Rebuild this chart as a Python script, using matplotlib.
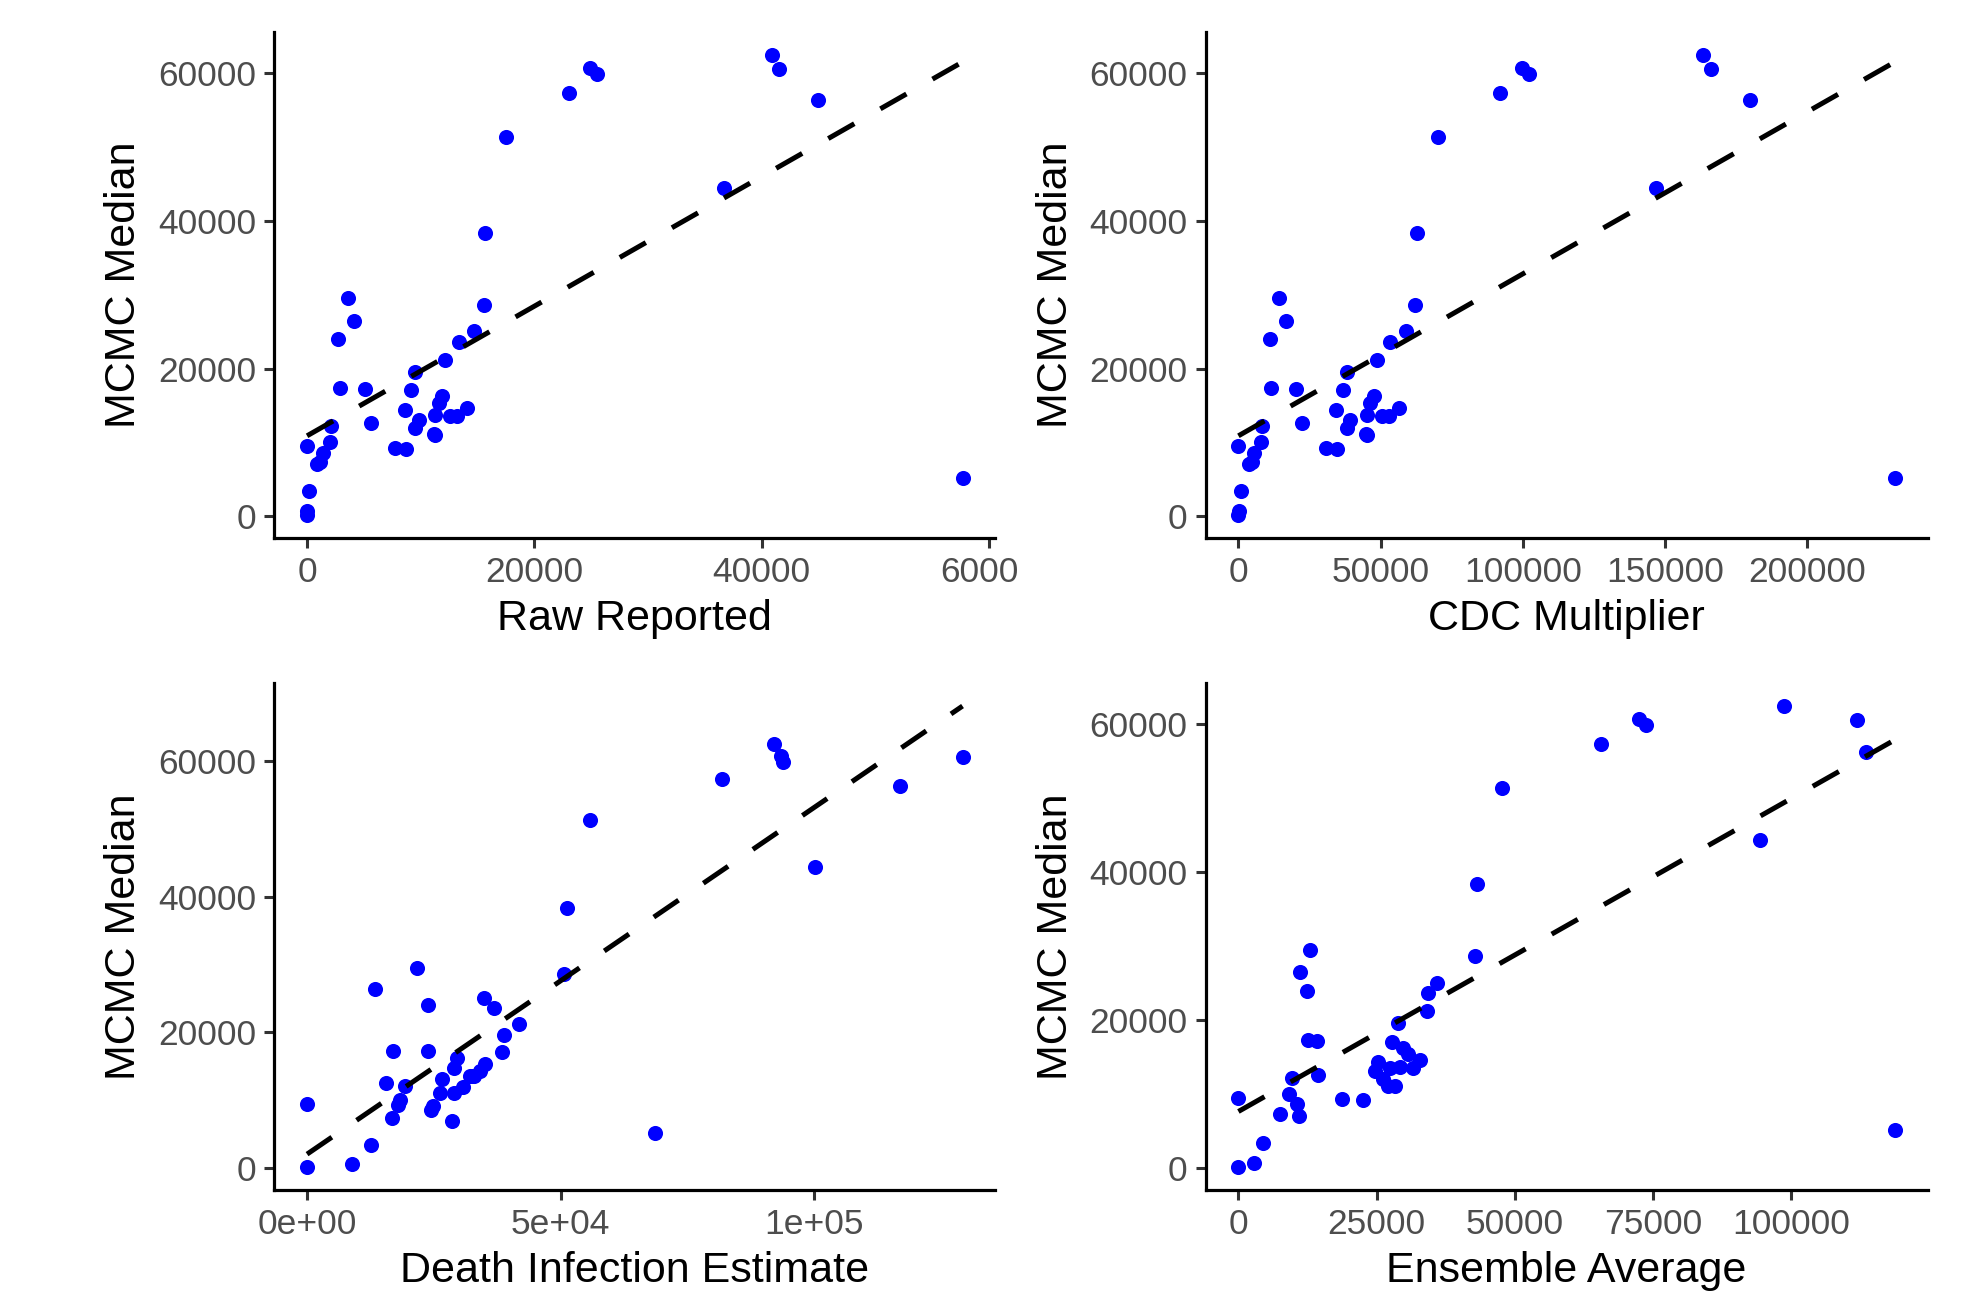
import numpy as np
import matplotlib
matplotlib.use("Agg")
import matplotlib.pyplot as plt
from matplotlib.transforms import Bbox, TransformedBbox

# ---------------- data ----------------
mcmc_median = [62480, 60640, 60730, 59860, 57340, 56330, 51370, 44400, 38390, 29530,
               28620, 26460, 25020, 23990, 23630, 21200, 19580, 17330, 17190, 17110,
               16210, 15360, 14680, 14320, 13640, 13510, 13510, 13060, 12600, 12160,
               11980, 11040, 10040, 9500, 9280, 9150, 8610, 7300, 7000, 5140,
               3390, 650, 150, 11100]

raw_reported = [40880, 41500, 24900, 25520, 23030, 44940, 17550, 36730, 15690, 3560,
                15530, 4140, 14710, 2740, 13340, 12170, 9540, 2890, 5080, 9170,
                11880, 11590, 14070, 8580, 11300, 12610, 13200, 9830, 5600, 2100,
                9540, 11300, 2010, 0, 7730, 8670, 1370, 1150, 900, 57690,
                200, 30, 0, 11200]

cdc_multiplier = [163500, 166000, 99600, 102100, 92100, 179800, 70200, 146900, 62800, 14200,
                  62100, 16600, 58800, 11000, 53400, 48700, 38200, 11600, 20300, 36700,
                  47500, 46400, 56300, 34300, 45200, 50400, 52800, 39300, 22400, 8400,
                  38200, 45200, 8000, 0, 30900, 34700, 5500, 4600, 3600, 230800,
                  800, 100, 0, 44800]

death_infection = [92090, 129300, 93490, 93950, 81770, 117000, 55810, 100280, 51350, 21700,
                   50700, 13400, 34970, 23790, 36870, 41710, 38890, 17000, 23790, 38380,
                   29550, 35100, 28890, 34120, 32160, 32490, 32840, 26610, 15630, 19280,
                   30850, 26280, 18430, 0, 17980, 24770, 24500, 16670, 28570, 68650,
                   12680, 8830, 0, 28890]

ensemble_average = [98720, 111970, 72480, 73760, 65640, 113500, 47690, 94440, 43160, 12940,
                    42740, 11080, 35850, 12470, 34350, 34050, 28950, 12580, 14140, 27760,
                    29730, 30750, 32850, 25350, 29250, 31650, 27450, 24750, 14450, 9640,
                    26250, 28350, 9160, 0, 18760, 22540, 10540, 7540, 10960, 118800,
                    4370, 2860, 0, 27150]

x_titles = ["Raw Reported", "CDC Multiplier", "Death Infection Estimate", "Ensemble Average"]
y_title = "MCMC Median"

x_ticks = [[0, 20000, 40000, 60000],
           [0, 50000, 100000, 150000, 200000],
           [0, 50000, 100000],
           [0, 25000, 50000, 75000, 100000]]
x_ticklabels = [["0", "20000", "40000", "60000"],
                ["0", "50000", "100000", "150000", "200000"],
                ["0e+00", "5e+04", "1e+05"],
                ["0", "25000", "50000", "75000", "100000"]]
y_ticks = [0, 20000, 40000, 60000]
y_ticklabels = ["0", "20000", "40000", "60000"]

# ---------------- figure ----------------
W, H = 1982, 1293
plt.rcParams['font.family'] = ['Liberation Sans', 'DejaVu Sans']
fig = plt.figure(figsize=(W / 100, H / 100), dpi=100)

# panel boxes in pixels: (left, right, top, bottom)
boxes = [(274.3, 995.3, 32, 538), (1205.6, 1927.7, 32, 538),
         (274.3, 995.3, 683, 1190), (1205.6, 1927.7, 683, 1190)]

xs = [raw_reported, cdc_multiplier, death_infection, ensemble_average]
y = np.array(mcmc_median, dtype=float)

for i in range(4):
    l, r, t, b = boxes[i]
    ax = fig.add_axes([l / W, 1 - b / H, (r - l) / W, (b - t) / H])
    x = np.array(xs[i], dtype=float)

    slope, intercept = np.polyfit(x, y, 1)
    lx = np.array([x.min(), x.max()])
    ly = intercept + slope * lx

    ax.scatter(x, y, s=118, color='#0000FF', linewidths=0, zorder=3)
    ax.plot(lx, ly, color='black', lw=3.6, ls=(0, (6, 6)), zorder=4,
            solid_capstyle='butt', dash_capstyle='butt')

    xr = x.max() - x.min()
    ax.set_xlim(x.min() - 0.05 * xr, x.max() + 0.05 * xr)
    ymin = min(y.min(), ly.min())
    ymax = max(y.max(), ly.max())
    yr = ymax - ymin
    ax.set_ylim(ymin - 0.05 * yr, ymax + 0.05 * yr)

    ax.set_xticks(x_ticks[i])
    ax.set_xticklabels(x_ticklabels[i])
    ax.set_yticks(y_ticks)
    ax.set_yticklabels(y_ticklabels)

    for s in ['top', 'right']:
        ax.spines[s].set_visible(False)
    for s in ['left', 'bottom']:
        ax.spines[s].set_linewidth(2.3)
        ax.spines[s].set_color('black')

    ax.tick_params(axis='both', which='major', length=7, width=2.2, color='#333333',
                   labelsize=25.5, labelcolor='#4D4D4D', pad=6)
    ax.set_xlabel(x_titles[i], fontsize=31, color='black', labelpad=7)
    ax.set_ylabel(y_title, fontsize=31, color='black', labelpad=10)

    if i == 0:
        clip = TransformedBbox(Bbox.from_extents(0, 0, 1017 / W, 1), fig.transFigure)
        for tk in ax.xaxis.get_major_ticks():
            tk.label1.set_clip_on(True)
            tk.label1.set_clip_box(clip)

fig.savefig("out.png", dpi=100, facecolor='white')
